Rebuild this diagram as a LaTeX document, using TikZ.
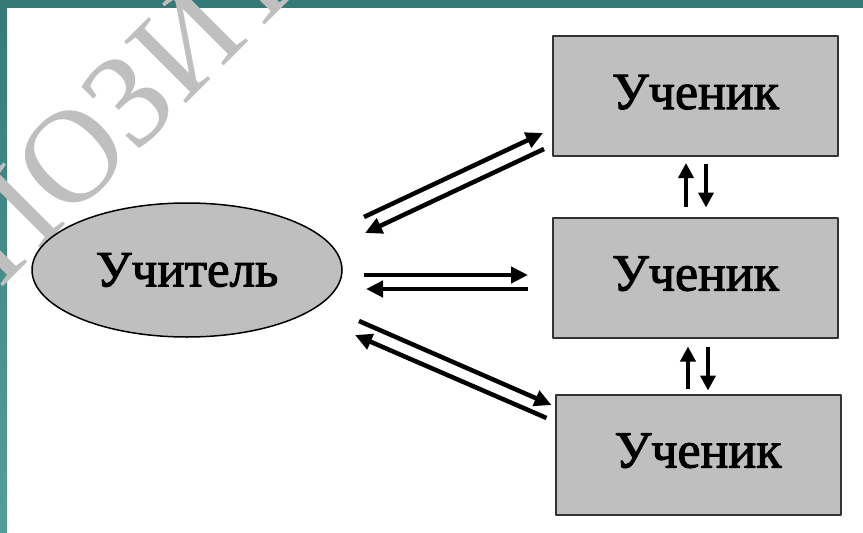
\documentclass[tikz,border=0pt]{standalone}
\usepackage{fontspec}
\setmainfont{Liberation Serif}
\newfontfamily\labelfont[FakeBold=2]{Liberation Serif}
\usetikzlibrary{arrows.meta,shapes.geometric}
\definecolor{cqcqcq}{rgb}{0.75,0.75,0.75}
\definecolor{tealbar}{rgb}{0.21,0.48,0.47}
\definecolor{tealbarlight}{rgb}{0.33,0.62,0.6}
\begin{document}
\begin{tikzpicture}[line cap=round,line join=round,x=1pt,y=-1pt,
	pupil/.style={draw=black!80,line width=2pt,fill=cqcqcq,minimum width=285pt,minimum height=120pt,inner sep=0pt,outer sep=0pt,text depth=8pt,font=\labelfont\fontsize{52}{52}\selectfont},
	teacher/.style={ellipse,draw=black,line width=1.5pt,fill=cqcqcq,minimum width=310pt,minimum height=134pt,inner sep=0pt,outer sep=0pt,font=\labelfont\fontsize{51}{51}\selectfont},
	arr/.style={line width=4.5pt,line cap=butt,-{Triangle[length=17pt,width=16pt]}},
	varr/.style={line width=4pt,line cap=butt,-{Triangle[length=15pt,width=15pt]}},
	watermark/.style={color=cqcqcq,inner sep=0pt,font=\fontsize{133}{133}\selectfont}]
	\useasboundingbox (0,0) rectangle (863,533);
	\clip (0,0) rectangle (863,533);
	\fill[color=tealbar] (0,0) rectangle (863,8);
	\shade[top color=tealbar,bottom color=tealbarlight] (0,0) rectangle (7,533);
	\node[watermark,anchor=base west,rotate=45] (wm) at (0,290) {ПОЗИТИВ};
	\node[teacher] (t) at (187,270) {Учитель};
	\node[pupil] (p1) at (695.5,96) {Ученик};
	\node[pupil] (p2) at (695.5,277.5) {Ученик};
	\node[pupil] (p3) at (698,454.5) {Ученик};
	% teacher <-> pupils
	\draw[arr] ([shift={(22,-53)}]t.east) -- ([shift={(-10,37)}]p1.west);
	\draw[arr] ([shift={(-9,53)}]p1.west) -- ([shift={(23,-37)}]t.east);
	\draw[arr] ([shift={(22,5)}]t.east) -- ([shift={(-25,-2.5)}]p2.west);
	\draw[arr] ([shift={(-25,11.5)}]p2.west) -- ([shift={(24,19)}]t.east);
	\draw[arr] ([shift={(17,51)}]t.east) -- ([shift={(-4,-49.5)}]p3.west);
	\draw[arr] ([shift={(-9,-36.5)}]p3.west) -- ([shift={(13,65)}]t.east);
	% pupil <-> pupil
	\draw[varr] ([shift={(-9.5,-11)}]p2.north) -- ([shift={(-9.5,7)}]p1.south);
	\draw[varr] ([shift={(10.5,8)}]p1.south) -- ([shift={(10.5,-10)}]p2.north);
	\draw[varr] ([shift={(-10,-6)}]p3.north) -- ([shift={(-7.5,9)}]p2.south);
	\draw[varr] ([shift={(12.5,9)}]p2.south) -- ([shift={(10,-4)}]p3.north);
\end{tikzpicture}
\end{document}
